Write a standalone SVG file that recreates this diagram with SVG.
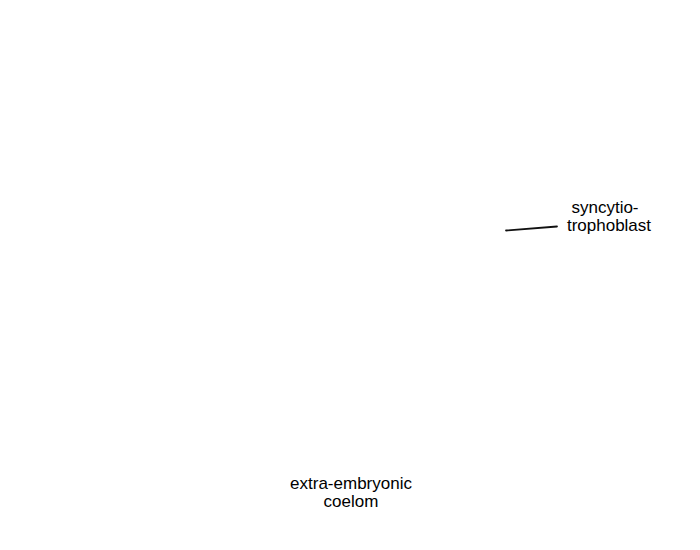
<svg xmlns="http://www.w3.org/2000/svg" width="700" height="550" viewBox="0 0 700 550">
<style>
.lbl{font-family:"Liberation Sans",Arial,sans-serif;font-size:17px;fill:#000;text-anchor:middle}
.ln{stroke:#111;stroke-width:1.8;fill:none;stroke-linecap:round}
</style>
<rect width="700" height="550" fill="#fff"/>
<g id="connectors">
<path class="ln" d="M506,230.5 L557,226.5"/>
</g>
<g id="syncytiotrophoblast">
<text class="lbl" x="605" y="213">syncytio-</text>
<text class="lbl" x="609" y="231">trophoblast</text>
</g>
<g id="coelom">
<text class="lbl" x="351" y="489">extra-embryonic</text>
<text class="lbl" x="351" y="507">coelom</text>
</g>
</svg>
